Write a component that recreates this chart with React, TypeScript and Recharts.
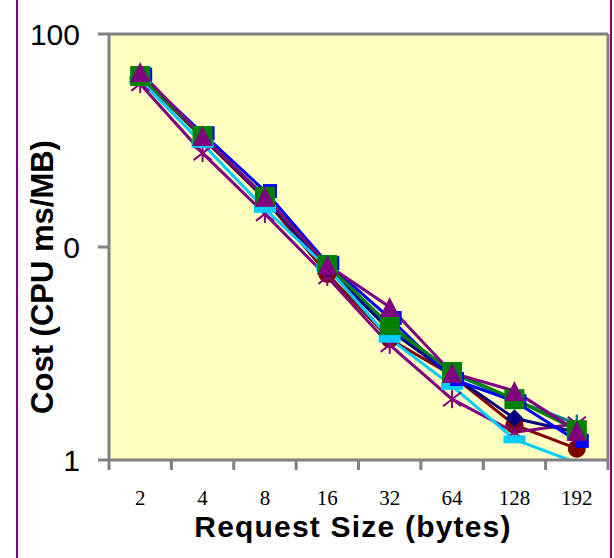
import { LineChart, Line, XAxis, YAxis, CartesianGrid, Label } from 'recharts';

// request sizes (bytes) on the category axis
const sizes = ['2', '4', '8', '16', '32', '64', '128', '192'];

// cost in CPU ms/MB, one array per series
const maroonCircle = [63, 32.5, 16.8, 7.47, 3.7, 2.5, 1.46, 1.13];
const purpleStar = [58.3, 27.6, 14.3, 7.23, 3.47, 1.93, 1.35, 1.48];
const tealPlus = [63.5, 33, 17.2, 8.1, 4.2, 2.55, 1.91, 1.48];
const navyDiamond = [64, 33, 17, 7.96, 4.07, 2.5, 1.57, 1.35];
const cyanDash = [60.8, 30.5, 15.1, 8.0, 3.71, 2.23, 1.25, 0.97];
const blueSquare = [64.5, 34.2, 18.3, 8.4, 4.64, 2.4, 1.89, 1.23];
const greenSquare = [63.5, 33.2, 17.2, 8.23, 4.3, 2.59, 1.93, 1.38];
const purpleTriangle = [66.3, 33.2, 17.2, 8.23, 5.23, 2.56, 2.11, 1.37];

const yTicks = [1, 10, 100];

const data = sizes.map((size, i) => ({
  size,
  maroon: maroonCircle[i],
  star: purpleStar[i],
  teal: tealPlus[i],
  navy: navyDiamond[i],
  cyan: cyanDash[i],
  blue: blueSquare[i],
  green: greenSquare[i],
  triangle: purpleTriangle[i],
}));

type Kind = 'circle' | 'star' | 'plus' | 'diamond' | 'dash' | 'square' | 'smallSquare' | 'triangle';

const series: { key: string; color: string; kind: Kind }[] = [
  { key: 'maroon', color: '#800000', kind: 'circle' },
  { key: 'star', color: '#800080', kind: 'star' },
  { key: 'teal', color: '#008080', kind: 'plus' },
  { key: 'navy', color: '#000080', kind: 'diamond' },
  { key: 'cyan', color: '#00CCFF', kind: 'dash' },
  { key: 'blue', color: '#0000FF', kind: 'smallSquare' },
  { key: 'green', color: '#008000', kind: 'square' },
  { key: 'triangle', color: '#800080', kind: 'triangle' },
];

const W = 614;
const H = 558;
const plotLeft = 109;
const plotRight = 608;
const plotTop = 34;
const plotBottom = 460;
const halfBand = (plotRight - plotLeft) / sizes.length / 2;
const gray = '#808080';
const sans = "'Liberation Sans', Arial, sans-serif";

const makeDot = (kind: Kind, color: string) => (p: any) => {
  const { cx, cy, value, index } = p;
  const k = `${kind}-${index}`;
  if (cx == null || cy == null || value == null || value < 1) return <g key={k} />;
  switch (kind) {
    case 'circle':
      return <circle key={k} cx={cx} cy={cy} r={9} fill={color} />;
    case 'diamond':
      return <polygon key={k} points={`${cx},${cy - 9} ${cx + 9},${cy} ${cx},${cy + 9} ${cx - 9},${cy}`} fill={color} />;
    case 'square':
      return <rect key={k} x={cx - 10} y={cy - 10} width={20} height={20} fill={color} />;
    case 'smallSquare':
      return <rect key={k} x={cx - 2} y={cy - 7} width={14} height={14} fill={color} />;
    case 'dash':
      return <rect key={k} x={cx - 11} y={cy - 4} width={22} height={8} fill={color} />;
    case 'triangle':
      return <polygon key={k} points={`${cx},${cy - 10} ${cx + 10},${cy + 10} ${cx - 10},${cy + 10}`} fill={color} />;
    case 'plus':
      return (
        <g key={k} stroke={color} strokeWidth={2}>
          <line x1={cx} y1={cy - 9} x2={cx} y2={cy + 9} />
          <line x1={cx - 9} y1={cy} x2={cx + 9} y2={cy} />
        </g>
      );
    case 'star':
    default:
      return (
        <g key={k} stroke={color} strokeWidth={2}>
          <line x1={cx} y1={cy - 9} x2={cx} y2={cy + 9} />
          <line x1={cx - 9} y1={cy - 7} x2={cx + 9} y2={cy + 7} />
          <line x1={cx - 9} y1={cy + 7} x2={cx + 9} y2={cy - 7} />
        </g>
      );
  }
};

function XTick(props: any) {
  const { x, y, payload, index } = props;
  return (
    <g>
      <line x1={x - halfBand} x2={x - halfBand} y1={y} y2={y + 10} stroke={gray} strokeWidth={3} />
      {index === sizes.length - 1 && (
        <line x1={x + halfBand} x2={x + halfBand} y1={y} y2={y + 10} stroke={gray} strokeWidth={3} />
      )}
      <text x={x} y={y + 45} textAnchor="middle" fontFamily="'Liberation Serif', serif" fontSize={21} fill="#000">
        {payload.value}
      </text>
    </g>
  );
}

const XTitle = () => (
  <text x={353} y={537} textAnchor="middle" fontFamily={sans} fontWeight="bold" fontSize={30} letterSpacing={1.2} fill="#000">
    Request Size (bytes)
  </text>
);

// axis title box is opaque, as in the original: it hides the "1" of the "10" tick
const YTitleOverlay = () => (
  <svg width={W} height={H} style={{ position: 'absolute', left: 0, top: 0, pointerEvents: 'none' }}>
    <rect x={24} y={136} width={38.5} height={284} fill="#fff" />
    <text
      x={53}
      y={277}
      transform="rotate(-90, 53, 277)"
      textAnchor="middle"
      fontFamily={sans}
      fontWeight="bold"
      fontSize={31}
      fill="#000"
    >
      Cost (CPU ms/MB)
    </text>
  </svg>
);

export default function App() {
  return (
    <div style={{ position: 'absolute', left: 0, top: 0, width: W, height: H, background: '#fff' }}>
      <LineChart width={W} height={H} data={data} margin={{ top: 0, right: 0, bottom: 0, left: 0 }}>
        <CartesianGrid horizontal={false} vertical={false} fill="#FFFFC0" />
        <XAxis
          dataKey="size"
          type="category"
          height={H - plotBottom}
          padding={{ left: halfBand, right: halfBand }}
          tickLine={false}
          tickSize={0}
          tickMargin={0}
          axisLine={{ stroke: gray, strokeWidth: 3 }}
          tick={<XTick />}
          interval={0}
        >
          <Label content={<XTitle />} />
        </XAxis>
        <XAxis
          xAxisId="top"
          orientation="top"
          dataKey="size"
          height={plotTop}
          tick={false}
          tickLine={false}
          axisLine={{ stroke: gray, strokeWidth: 3 }}
        />
        <YAxis
          type="number"
          scale="log"
          domain={[1, 100]}
          ticks={yTicks}
          allowDataOverflow
          width={plotLeft}
          tickSize={11}
          tickMargin={18}
          tickLine={{ stroke: gray, strokeWidth: 3 }}
          axisLine={{ stroke: gray, strokeWidth: 3 }}
          tick={{ fontSize: 30, fill: '#000', fontFamily: sans }}
        />
        <YAxis
          yAxisId="right"
          orientation="right"
          width={W - plotRight}
          tick={false}
          tickLine={false}
          axisLine={{ stroke: gray, strokeWidth: 3 }}
        />
        {series.map((s) => (
          <Line
            key={s.key}
            dataKey={s.key}
            type="linear"
            stroke={s.color}
            strokeWidth={3}
            dot={makeDot(s.kind, s.color)}
            activeDot={false}
            isAnimationActive={false}
          />
        ))}
      </LineChart>
      <YTitleOverlay />
      <div style={{ position: 'absolute', left: 16, top: 0, width: 2, height: H, background: '#800080' }} />
      <div style={{ position: 'absolute', left: 610, top: 0, width: 2, height: H, background: '#800080' }} />
    </div>
  );
}
